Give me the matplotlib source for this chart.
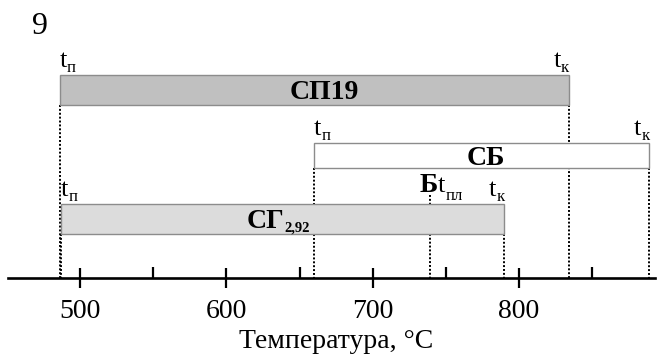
import matplotlib
matplotlib.use("Agg")
import matplotlib.pyplot as plt
from matplotlib.ticker import MultipleLocator
from matplotlib import transforms

plt.rcParams['font.family'] = ['Liberation Serif', 'DejaVu Serif']

# ---- data ----
bar_names = ['СП19', 'СБ', 'СГ']
bar_subs = ['', '', '2,92']
t_start = [486, 660, 487]
t_end = [834, 889, 790]
bar_colors = ['#c0c0c0', '#ffffff', '#dcdcdc']
b_temp = 739
b_main = 'Б'
b_sub = 'пл'
t_main = 't'
start_sub = 'п'
end_sub = 'к'
major_ticks = [500, 600, 700, 800]
xlabel = 'Температура, °C'
panel = '9'

# ---- layout (y in pixels from top) ----
W, H = 659, 356
fig = plt.figure(figsize=(W / 100, H / 100), dpi=100)
axis_y = 277.7
ax = fig.add_axes([8 / W, 1 - axis_y / H, 647 / W, axis_y / H])
ax.set_xlim(450.8, 892.9)
ax.set_ylim(axis_y, 0)
renderer = fig.canvas.get_renderer()

bar_centers = [90.3, 155.8, 219.0]
bar_heights = [30, 25, 30]
label_dx = [10, 4, -4]

T_SIZE = 19
SUB_SIZE = 12
NAME_SIZE = 20


def width_of(s, size, weight='normal'):
    t = fig.text(0, 0, s, fontsize=size, fontweight=weight)
    w = t.get_window_extent(renderer).width
    t.remove()
    return w


def draw_group(x, y, parts, align):
    """parts: list of (text, size, weight, dy_px_down, gap_px_before)."""
    widths = [width_of(p[0], p[1], p[2]) + p[4] for p in parts]
    total = sum(widths)
    if align == 'left':
        x0 = 0
    elif align == 'right':
        x0 = -total
    else:
        x0 = -total / 2
    cur = x0
    for (s, size, weight, dy, gap), w in zip(parts, widths):
        tr = transforms.offset_copy(ax.transData, fig=fig, x=cur + gap, y=-dy, units='dots')
        ax.text(x, y, s, fontsize=size, fontweight=weight, ha='left', va='baseline',
                transform=tr, zorder=5)
        cur += w


for name, sub, s, e, c, yc, h, ldx in zip(bar_names, bar_subs, t_start, t_end, bar_colors,
                                          bar_centers, bar_heights, label_dx):
    ax.barh(yc, e - s, left=s, height=h, color=c, edgecolor='#8c8c8c', linewidth=1.0, zorder=3)
    top = yc - h / 2
    bot = yc + h / 2
    parts = [(name, NAME_SIZE, 'bold', 0, 0)]
    if sub:
        parts.append((sub, 10.5, 'bold', 4, 0))
    draw_group((s + e) / 2 + ldx / 1.4633, yc + 9, parts, 'center')
    draw_group(s, top - 8, [(t_main, T_SIZE, 'normal', 0, 0), (start_sub, SUB_SIZE, 'normal', 5, 0)], 'left')
    draw_group(e, top - 8, [(t_main, T_SIZE, 'normal', 0, 0), (end_sub, SUB_SIZE, 'normal', 5, 0)], 'right')
    for xv in (s, e):
        ax.plot([xv, xv], [bot, axis_y], color='black', lw=1.4, ls=(0, (1, 1)), zorder=2)

sg_top = bar_centers[2] - bar_heights[2] / 2
ax.plot([b_temp, b_temp], [sg_top - 9, axis_y], color='black', lw=1.4, ls=(0, (1, 1)), zorder=2)
bw = width_of(b_main, NAME_SIZE, 'bold')
draw_group(b_temp - (bw / 2 + 1) / 1.4633, sg_top - 12,
           [(b_main, NAME_SIZE, 'bold', 0, 0), (t_main, T_SIZE, 'normal', 0, 0),
            (b_sub, SUB_SIZE, 'normal', 8, 0)],
           'left')

for sp in ['top', 'left', 'right']:
    ax.spines[sp].set_visible(False)
ax.spines['bottom'].set_linewidth(1.9)
ax.set_yticks([])
ax.set_xticks(major_ticks)
ax.xaxis.set_minor_locator(MultipleLocator(50))
ax.tick_params(axis='x', which='major', direction='inout', length=15, width=1.6,
               labelsize=20, pad=7.5)
ax.tick_params(axis='x', which='minor', direction='in', length=8, width=1.6)
ax.patch.set_alpha(0)
ax.set_xlabel(xlabel, fontsize=20)
ax.xaxis.set_label_coords((336 - 8) / 647, -0.186)

fig.text(32 / W, 1 - 34 / H, panel, fontsize=23, ha='left', va='baseline')

fig.savefig('out.png', dpi=100)
